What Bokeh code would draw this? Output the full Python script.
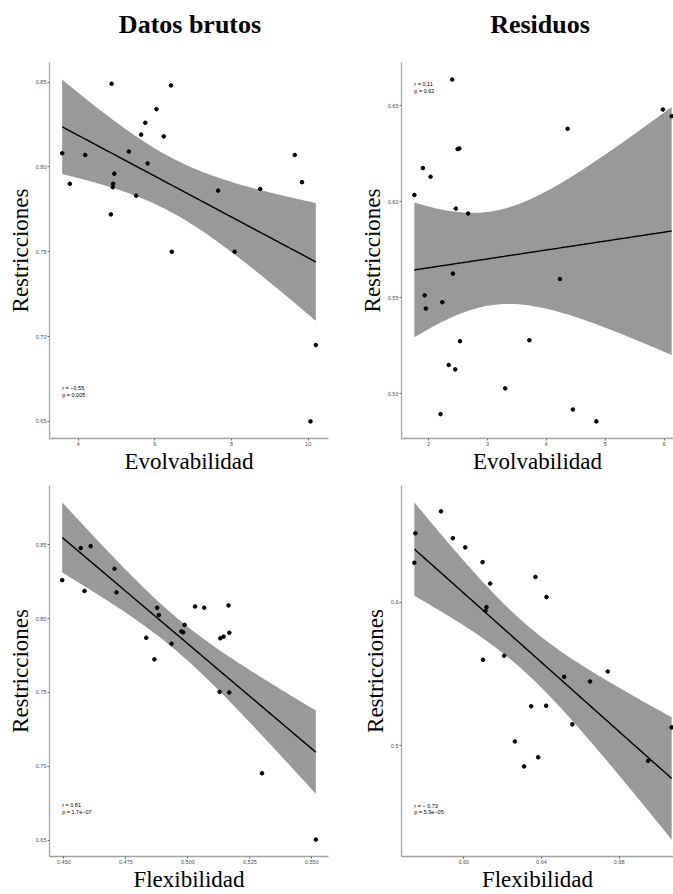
import numpy as np
from bokeh.plotting import figure
from bokeh.models import Range1d, FixedTicker, ColumnDataSource
from bokeh.layouts import column, row
from bokeh.embed import file_html
from bokeh.resources import INLINE
from bokeh.core.properties import value

# ---------------- data ----------------
# Panel A: raw data, Evolvabilidad vs Restricciones
evol_raw = [3.58, 3.78, 4.18, 4.87, 4.85, 4.90, 4.91, 4.94, 5.32, 5.51, 5.64, 5.75,
            5.81, 6.04, 6.23, 6.42, 6.44, 7.65, 8.08, 8.75, 9.65, 9.84, 10.20, 10.06]
restr_raw_a = [0.808, 0.790, 0.807, 0.849, 0.772, 0.788, 0.790, 0.796, 0.809, 0.783, 0.819, 0.826,
               0.802, 0.834, 0.818, 0.848, 0.750, 0.786, 0.750, 0.787, 0.807, 0.791, 0.695, 0.650]

# Panel B: residuals, Evolvabilidad vs Restricciones
evol_res = [1.755, 1.90, 2.03, 2.40, 2.46, 2.49, 2.52, 2.67, 4.36, 5.98, 6.13, 2.41,
            4.23, 1.93, 2.23, 1.95, 2.53, 3.71, 2.34, 2.45, 3.30, 2.20, 4.45, 4.85]
restr_res_b = [0.6035, 0.6175, 0.6130, 0.6636, 0.5964, 0.6274, 0.6277, 0.5938, 0.6380, 0.6480, 0.6445, 0.5625,
               0.5597, 0.5512, 0.5476, 0.5443, 0.5273, 0.5278, 0.5149, 0.5126, 0.5027, 0.4893, 0.4917, 0.4855]

# Panel C: raw data, Flexibilidad vs Restricciones
flex_raw = [0.4493, 0.4568, 0.4583, 0.4608, 0.4704, 0.4712, 0.4832, 0.4865, 0.4876, 0.4883, 0.4934, 0.4974,
            0.4981, 0.4987, 0.5029, 0.5066, 0.5131, 0.5144, 0.5164, 0.5167, 0.5128, 0.5167, 0.5299, 0.5516]
restr_raw_c = [0.8260, 0.8477, 0.8187, 0.8490, 0.8337, 0.8177, 0.7870, 0.7724, 0.8073, 0.8024, 0.7830, 0.7913,
               0.7907, 0.7957, 0.8082, 0.8073, 0.7867, 0.7878, 0.8089, 0.7904, 0.7504, 0.7500, 0.6953, 0.6504]

# Panel D: residuals, Flexibilidad vs Restricciones
flex_res = [0.5746, 0.5751, 0.5883, 0.5944, 0.6008, 0.6097, 0.6136, 0.6117, 0.6112, 0.6369, 0.6426, 0.6099,
            0.6208, 0.6517, 0.6650, 0.6741, 0.6347, 0.6424, 0.6559, 0.7070, 0.6263, 0.6383, 0.6311, 0.6949]
restr_res_d = [0.6275, 0.6480, 0.6633, 0.6446, 0.6382, 0.6279, 0.6130, 0.5966, 0.5940, 0.6176, 0.6036, 0.5599,
               0.5627, 0.5480, 0.5448, 0.5517, 0.5275, 0.5279, 0.5149, 0.5128, 0.5030, 0.4920, 0.4856, 0.4895]

# tick values / labels
ticks_a_x = [4, 6, 8, 10];                labels_a_x = ["4", "6", "8", "10"]
ticks_a_y = [0.65, 0.70, 0.75, 0.80, 0.85]; labels_a_y = ["0.65", "0.70", "0.75", "0.80", "0.85"]
ticks_b_x = [2, 3, 4, 5, 6];              labels_b_x = ["2", "3", "4", "5", "6"]
ticks_b_y = [0.50, 0.55, 0.60, 0.65];     labels_b_y = ["0.50", "0.55", "0.60", "0.65"]
ticks_c_x = [0.450, 0.475, 0.500, 0.525, 0.550]; labels_c_x = ["0.450", "0.475", "0.500", "0.525", "0.550"]
ticks_c_y = [0.65, 0.70, 0.75, 0.80, 0.85]; labels_c_y = ["0.65", "0.70", "0.75", "0.80", "0.85"]
ticks_d_x = [0.60, 0.64, 0.68];           labels_d_x = ["0.60", "0.64", "0.68"]
ticks_d_y = [0.5, 0.6];                   labels_d_y = ["0.5", "0.6"]

# correlation annotations (text) and their anchor in data units
ann_a = ["r = \u22120.55", "p = 0.005"];     ann_a_pos = (3.58, 0.6696, 0.6657)
ann_b = ["r = 0.11", "p = 0.62"];           ann_b_pos = (1.755, 0.6615, 0.6577)
ann_c = ["r = 0.81", "p =  1.7e\u221207"];  ann_c_pos = (0.4493, 0.6737, 0.6693)
ann_d = ["r = \u2212 0.73", "p = 5.9e\u221205"]; ann_d_pos = (0.5746, 0.4583, 0.4537)

col_titles = ["Datos brutos", "Residuos"]
x_titles = ["Evolvabilidad", "Flexibilidad"]
y_title = "Restricciones"

T_CRIT = 2.0739  # t(0.975, df = 22)

SERIF = "Liberation Serif"
SANS = "Liberation Sans"

# layout (px)
W_L, W_R = 340, 333
H_TITLE = 50
H_TOP = 427
H_BOT = 417
BL_L, BR_L = 49, 12
BL_R, BR_R = 61, 0
TITLE_Y = 26.3               # title anchor height inside the title strip (from its bottom)
TITLE_DX = (1.0, 2.5)        # nudge of each column title from its frame centre
VIS_R = 0.961                # visible share of right-hand panels' x span (cropped at the edge)


def lm_band(x, y):
    x = np.asarray(x, float); y = np.asarray(y, float)
    n = len(x)
    b, a = np.polyfit(x, y, 1)
    xs = np.linspace(x.min(), x.max(), 100)
    yh = a + b * xs
    resid = y - (a + b * x)
    s = np.sqrt(np.sum(resid ** 2) / (n - 2))
    sxx = np.sum((x - x.mean()) ** 2)
    se = s * np.sqrt(1.0 / n + (xs - x.mean()) ** 2 / sxx)
    return xs, yh, yh - T_CRIT * se, yh + T_CRIT * se


def panel(x, y, tx, lx, ty, ly, xlab, ann, ann_pos, width, height,
          bl, br, bt, bb, vis=1.0):
    xs, yh, lo, hi = lm_band(x, y)
    x0, x1 = min(x), max(x)
    dx = (x1 - x0) * 0.05
    xa, xb = x0 - dx, x1 + dx
    xb = xa + (xb - xa) * vis
    y0 = min(min(y), lo.min()); y1 = max(max(y), hi.max())
    dy = (y1 - y0) * 0.05
    p = figure(width=width, height=height, output_backend="svg", toolbar_location=None,
               x_range=Range1d(xa, xb), y_range=Range1d(y0 - dy, y1 + dy),
               min_border_left=bl, min_border_right=br, min_border_top=bt, min_border_bottom=bb,
               background_fill_color="white", border_fill_color="white")
    p.outline_line_color = None
    p.grid.visible = False
    band = ColumnDataSource(dict(x=xs, lo=lo, hi=hi, yh=yh))
    p.varea(x="x", y1="lo", y2="hi", source=band, fill_color="#999999", fill_alpha=1.0)
    p.line(x="x", y="yh", source=band, line_color="black", line_width=1.4)
    p.scatter(x=list(x), y=list(y), size=3.6, color="black")
    p.text(x=[ann_pos[0], ann_pos[0]], y=[ann_pos[1], ann_pos[2]], text=ann,
           text_font=value(SANS), text_font_size="5.5px", text_baseline="middle",
           text_align="left", text_color="black")
    for ax, t, l in ((p.xaxis[0], tx, lx), (p.yaxis[0], ty, ly)):
        ax.ticker = FixedTicker(ticks=t)
        ax.major_label_overrides = {v: s for v, s in zip(t, l)}
        ax.axis_line_color = "#a3a3a3"
        ax.axis_line_width = 1.3
        ax.major_tick_line_color = "#666666"
        ax.major_tick_in = 0
        ax.major_tick_out = 2
        ax.minor_tick_line_color = None
        ax.major_label_text_font = SANS
        ax.major_label_text_font_size = "5.5px"
        ax.major_label_text_color = "#4d4d4d"
        ax.major_label_standoff = 1
        ax.axis_label_text_font = SERIF
        ax.axis_label_text_font_size = "23px"
        ax.axis_label_text_font_style = "normal"
        ax.axis_label_text_color = "black"
        ax.axis_label_standoff = 0
    p.xaxis.axis_label = xlab
    p.yaxis.axis_label = y_title
    return p


# strip holding the two column titles
W_ALL = W_L + W_R
pt = figure(width=W_ALL, height=H_TITLE, output_backend="svg", toolbar_location=None,
            title=None, x_range=Range1d(0, W_ALL), y_range=Range1d(0, H_TITLE),
            x_axis_type=None, y_axis_type=None,
            min_border_left=0, min_border_right=0, min_border_top=0, min_border_bottom=0)
pt.outline_line_color = None
pt.grid.visible = False
title_x = [BL_L + (W_L - BL_L - BR_L) / 2 + TITLE_DX[0],
           W_L + BL_R + (W_R - BL_R - BR_R) / 2 + TITLE_DX[1]]
title_y = [TITLE_Y, TITLE_Y]
pt.text(x=title_x, y=title_y, text=col_titles,
        text_font=value(SERIF), text_font_size="26px", text_font_style="bold",
        text_align="center", text_baseline="alphabetic", text_color="black")

pa = panel(evol_raw, restr_raw_a, ticks_a_x, labels_a_x, ticks_a_y, labels_a_y, x_titles[0],
           ann_a, ann_a_pos, W_L, H_TOP, BL_L, BR_L, 12, 39)
pb = panel(evol_res, restr_res_b, ticks_b_x, labels_b_x, ticks_b_y, labels_b_y, x_titles[0],
           ann_b, ann_b_pos, W_R, H_TOP, BL_R, BR_R, 12, 39, vis=VIS_R)
pc = panel(flex_raw, restr_raw_c, ticks_c_x, labels_c_x, ticks_c_y, labels_c_y, x_titles[1],
           ann_c, ann_c_pos, W_L, H_BOT, BL_L, BR_L, 8, 0)
pd = panel(flex_res, restr_res_d, ticks_d_x, labels_d_x, ticks_d_y, labels_d_y, x_titles[1],
           ann_d, ann_d_pos, W_R, H_BOT, BL_R, BR_R, 8, 0, vis=VIS_R)

layout = column(pt, row(pa, pb), row(pc, pd))

with open("out.html", "w") as f:
    f.write(file_html(layout, INLINE))
